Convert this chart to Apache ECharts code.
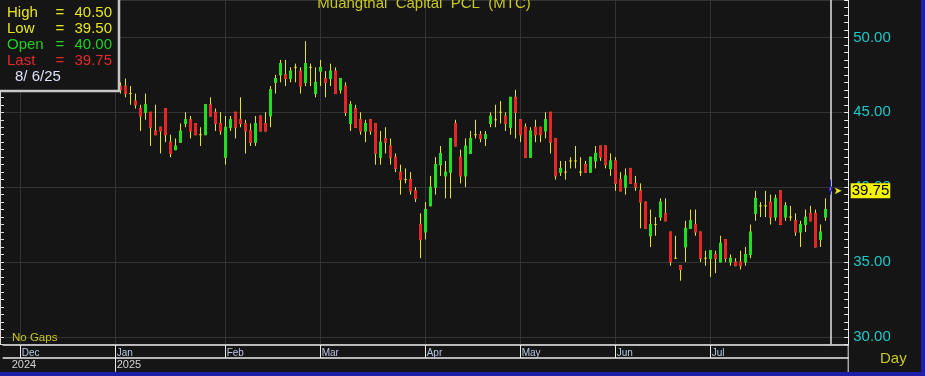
<!DOCTYPE html>
<html>
<head>
<meta charset="utf-8">
<title>Muangthai Capital PCL (MTC)</title>
<script src="https://cdn.jsdelivr.net/npm/echarts@6.0.0/dist/echarts.min.js"></script>
<style>
  html, body { margin: 0; padding: 0; background: #151515; }
  #chart { width: 925px; height: 376px; }
</style>
</head>
<body>
<div id="chart"></div>
<script>
// SET trading days shown on the chart, per month
var tradingDays = [
  ["2024-12", [2, 3, 4, 6, 9, 11, 12, 13, 16, 17, 18, 19, 20, 23, 24, 25, 26, 27, 30]],
  ["2025-01", [2, 3, 6, 7, 8, 9, 10, 13, 14, 15, 16, 17, 20, 21, 22, 23, 24, 27, 28, 29, 30, 31]],
  ["2025-02", [3, 4, 5, 6, 7, 10, 11, 13, 14, 17, 18, 19, 20, 21, 24, 25, 26, 27, 28]],
  ["2025-03", [3, 4, 5, 6, 7, 10, 11, 12, 13, 14, 17, 18, 19, 20, 21, 24, 25, 26, 27, 28, 31]],
  ["2025-04", [1, 2, 3, 4, 8, 9, 10, 11, 16, 17, 18, 21, 22, 23, 24, 25, 28, 29, 30]],
  ["2025-05", [2, 6, 7, 8, 9, 13, 14, 15, 16, 19, 20, 21, 22, 23, 26, 27, 28, 29, 30]],
  ["2025-06", [4, 5, 6, 9, 10, 11, 12, 13, 16, 17, 18, 19, 20, 23, 24, 25, 26, 27, 30]],
  ["2025-07", [1, 2, 3, 4, 7, 8, 9, 11, 14, 15, 16, 17, 18, 21, 22, 23, 24, 25, 29, 30, 31]],
  ["2025-08", [1, 4, 5, 6]]
];

// december candles sit behind the quote box, not readable
var DEC = [null, null, null, null, null, null, null, null, null, null,
  null, null, null, null, null, null, null, null, null];

var open = DEC.concat([
  // jan
  47.0, 46.75, 46.75, 46.25, 45.75, 45.25, 45.0, 45.0, 43.75, 44.0, 45.25, 43.0, 42.5, 43.0, 44.25, 44.5, 44.25, 43.5, 43.5, 45.5, 45.0, 44.25,
  // feb
  42.0, 44.0, 45.0, 44.5, 44.25, 43.75, 43.0, 44.75, 44.25, 44.75, 47.0, 47.5, 47.5, 47.25, 48.0, 47.75, 47.0, 48.0, 46.25,
  // mar
  47.75, 47.25, 47.25, 47.75, 46.5, 46.75, 44.25, 45.25, 44.5, 43.75, 44.5, 44.25, 42.0, 43.25, 42.75, 42.0, 41.0, 40.5, 40.5, 39.75, 37.5,
  // apr
  37.0, 38.75, 40.0, 41.5, 40.75, 41.0, 44.25, 42.0, 40.75, 42.25, 43.5, 43.5, 43.25, 44.25, 44.5, 45.0, 44.75, 44.0, 46.0,
  // may
  44.5, 44.0, 42.0, 44.0, 44.0, 43.75, 45.0, 43.25, 41.0, 41.0, 41.75, 41.75, 41.0, 41.5, 41.0, 41.75, 42.75, 42.75, 41.25,
  // jun
  41.75, 40.5, 40.0, 41.25, 40.25, 39.75, 39.0, 36.75, 37.5, 38.0, 38.25, 37.0, 35.25, 34.75, 36.0, 37.25, 37.5, 37.0, 35.25,
  // jul
  35.25, 35.5, 35.0, 36.5, 35.0, 35.0, 35.0, 35.0, 35.5, 38.25, 38.75, 38.75, 39.0, 38.0, 39.75, 38.0, 38.0, 37.75, 37.0, 37.5, 38.25,
  // aug
  38.25, 36.5, 38.0, 40.0
]);

var high = DEC.concat([
  47.25, 47.0, 47.25, 46.75, 46.25, 45.5, 46.25, 45.0, 45.5, 44.0, 45.25, 43.5, 43.25, 44.25, 45.0, 44.75, 44.25, 44.0, 45.5, 46.0, 45.25, 45.0,
  44.75, 44.75, 45.0, 46.0, 44.5, 44.25, 44.75, 44.75, 45.0, 46.75, 47.5, 48.5, 48.5, 48.0, 48.25, 48.0, 49.75, 48.25, 48.0,
  48.5, 47.75, 48.25, 48.0, 47.25, 47.0, 45.75, 45.5, 45.0, 44.5, 44.5, 44.25, 43.75, 44.0, 43.25, 42.25, 41.5, 41.25, 41.0, 40.0, 38.25,
  39.0, 40.75, 42.0, 42.75, 41.75, 43.25, 44.5, 42.5, 43.25, 43.75, 44.5, 43.75, 43.75, 45.0, 45.5, 45.75, 45.0, 46.0, 46.5,
  44.5, 44.25, 44.0, 44.5, 44.0, 45.0, 45.0, 43.25, 41.75, 41.75, 42.0, 42.75, 42.0, 41.75, 42.0, 42.75, 42.75, 42.75, 42.25,
  42.0, 41.0, 41.25, 41.25, 40.75, 40.25, 39.0, 38.5, 38.0, 39.25, 39.25, 37.0, 36.75, 34.75, 37.75, 38.5, 38.5, 37.0, 35.75,
  35.75, 35.75, 36.75, 36.5, 35.5, 35.25, 35.75, 36.0, 37.5, 39.75, 39.0, 39.75, 39.5, 39.5, 39.75, 39.0, 38.75, 38.25, 37.75, 38.5, 38.75,
  38.5, 37.5, 39.25, 40.5
]);

var low = DEC.concat([
  46.75, 46.25, 46.0, 45.5, 45.25, 43.75, 44.5, 42.75, 43.5, 42.25, 43.0, 42.0, 42.5, 43.0, 44.0, 43.25, 43.5, 42.75, 43.5, 44.75, 43.75, 43.5,
  41.5, 43.75, 43.25, 44.0, 42.25, 42.75, 42.75, 43.75, 43.75, 44.0, 46.25, 47.0, 46.75, 47.0, 47.0, 46.25, 46.75, 46.75, 46.0,
  46.75, 46.0, 46.75, 46.25, 46.25, 44.75, 43.75, 44.0, 43.5, 43.0, 43.5, 41.5, 41.5, 42.25, 41.5, 41.0, 39.5, 40.25, 39.5, 39.0, 35.25,
  36.5, 38.75, 39.5, 40.75, 39.25, 39.25, 42.75, 40.25, 40.0, 42.25, 43.25, 43.0, 42.75, 44.0, 44.0, 44.25, 43.75, 43.5, 43.25,
  43.0, 42.0, 42.0, 43.0, 43.0, 43.25, 42.25, 40.5, 40.75, 40.5, 41.25, 41.25, 40.75, 41.0, 41.0, 41.25, 41.75, 41.25, 40.75,
  39.75, 39.75, 39.5, 40.25, 39.75, 37.25, 37.25, 36.0, 36.75, 37.75, 37.75, 34.75, 35.25, 33.75, 35.0, 37.25, 36.75, 35.0, 34.75,
  34.0, 34.25, 35.0, 35.0, 34.75, 34.75, 34.5, 34.75, 35.25, 37.75, 38.0, 38.0, 37.5, 37.75, 37.5, 37.75, 37.75, 36.75, 36.0, 37.0, 37.75,
  36.0, 36.0, 37.75, 39.5
]);

var close = DEC.concat([
  47.0, 46.5, 46.25, 46.25, 45.5, 44.75, 45.5, 44.0, 43.5, 43.75, 43.5, 42.25, 42.75, 43.75, 44.5, 43.75, 43.5, 43.5, 45.5, 44.75, 44.25, 43.75,
  44.0, 44.5, 44.0, 44.25, 43.75, 43.0, 44.25, 43.75, 43.75, 46.5, 47.25, 48.25, 47.25, 47.75, 48.0, 46.75, 48.25, 48.0, 47.0,
  48.0, 47.0, 47.75, 46.25, 47.25, 45.0, 45.5, 44.0, 43.75, 44.25, 43.75, 42.25, 43.0, 43.0, 42.0, 41.25, 40.5, 40.5, 39.75, 39.25, 36.5,
  38.5, 40.0, 41.5, 42.25, 41.0, 43.25, 42.75, 40.75, 42.75, 43.25, 43.5, 43.25, 43.5, 44.75, 44.5, 45.0, 44.25, 46.0, 45.0,
  43.5, 42.0, 43.75, 43.5, 43.5, 44.5, 43.0, 40.75, 41.25, 41.0, 41.75, 41.75, 41.0, 41.0, 42.0, 42.25, 42.0, 41.5, 41.75,
  40.25, 39.75, 40.75, 40.25, 40.0, 39.0, 37.25, 37.5, 37.5, 39.0, 37.75, 35.0, 35.25, 34.5, 37.25, 37.75, 37.0, 35.25, 35.25,
  35.75, 35.25, 36.25, 35.25, 35.25, 34.75, 34.75, 35.5, 37.0, 39.25, 38.75, 38.75, 38.0, 39.25, 37.5, 38.75, 38.0, 37.0, 37.5, 38.0, 37.75,
  36.0, 37.0, 38.5, 39.75
]);

// bottom scale
var monthTicks = ["2024-12-02", "2025-01-02", "2025-02-03", "2025-03-03", "2025-04-01", "2025-05-02", "2025-06-04", "2025-07-01"];
var monthNames = ["Dec", "Jan", "Feb", "Mar", "Apr", "May", "Jun", "Jul"];
var yearTicks = ["2025-01-02"];
var yearNames = ["2024", "2025"];

var YELLOW = "#e6e620";
var UP = "#1ee01e";
var DOWN = "#e62626";
var CURSOR = "#2424cc";
var TXT = "#c8c81e";
var FONT = "Liberation Sans, Arial, sans-serif";

var dates = [];
tradingDays.forEach(function (m) {
  m[1].forEach(function (d) {
    dates.push(m[0] + "-" + (d < 10 ? "0" + d : d));
  });
});

// empty slots before / after so the candles line up with the frame
var lead = ["p0", "p1", "p2"];
var tail = ["n0", "n1", "n2"];
var categories = lead.concat(dates, tail);

var last = dates.length - 1;
var lastDate = dates[last];

var full = [];
var body = [];
lead.forEach(function () { full.push("-"); body.push("-"); });
dates.forEach(function (d, i) {
  if (open[i] == null) {
    full.push("-");
    body.push("-");
    return;
  }
  var o = open[i], c = close[i];
  var f = { value: [o, c, low[i], high[i]] };
  var b = o === c ? "-" : { value: [o, c, Math.min(o, c), Math.max(o, c)] };
  if (i === last) {
    f.itemStyle = { color: CURSOR, color0: CURSOR, borderColor: CURSOR, borderColor0: CURSOR, borderColorDoji: CURSOR };
    if (b !== "-") {
      b.itemStyle = { color: "#d86a6a", color0: "#d86a6a", borderColor: CURSOR, borderColor0: CURSOR };
    }
  }
  full.push(f);
  body.push(b);
});
tail.forEach(function () { full.push("-"); body.push("-"); });

function monthLabel(v) {
  var k = monthTicks.indexOf(v);
  return k < 0 ? "" : monthNames[k];
}

function fmtDate(d) {
  var p = d.split("-");
  var day = parseInt(p[2], 10);
  return parseInt(p[1], 10) + "/" + (day < 10 ? " " + day : day) + "/" + p[0].slice(2);
}

var monthLines = monthTicks.map(function (d) {
  return { xAxis: d };
});
monthLines.push({ xAxis: lastDate, lineStyle: { color: "#e4e4e4", width: 1.5, type: "solid" } });

var quoteRows = [
  ["High", high[last], YELLOW, 13],
  ["Low", low[last], YELLOW, 28.5],
  ["Open", open[last], "#22d022", 44.5],
  ["Last", close[last], "#e22a2a", 60.5]
];

var graphics = [
  { type: "rect", z: 100, shape: { x: -3, y: -3, width: 122, height: 94 },
    style: { fill: "#151515", stroke: "#c8c8c8", lineWidth: 2.5 } }
];
quoteRows.forEach(function (r) {
  graphics.push({ type: "text", z: 101, x: 7, y: r[3],
    style: { text: r[0], fill: r[2], font: "15px " + FONT, textVerticalAlign: "middle" } });
  graphics.push({ type: "text", z: 101, x: 60, y: r[3],
    style: { text: "=", fill: r[2], font: "15px " + FONT, textAlign: "center", textVerticalAlign: "middle" } });
  graphics.push({ type: "text", z: 101, x: 112, y: r[3],
    style: { text: r[1].toFixed(2), fill: r[2], font: "15px " + FONT, textAlign: "right", textVerticalAlign: "middle" } });
});
graphics.push({ type: "text", z: 101, x: 15, y: 77,
  style: { text: fmtDate(lastDate), fill: "#dae2fa", font: "15px " + FONT, textVerticalAlign: "middle" } });
graphics.push({ type: "text", z: 101, x: 12, y: 337.5,
  style: { text: "No Gaps", fill: TXT, font: "11.5px " + FONT, textVerticalAlign: "middle" } });
graphics.push({ type: "text", z: 101, x: 880, y: 359,
  style: { text: "Day", fill: TXT, font: "15px " + FONT, textVerticalAlign: "middle" } });
graphics.push({ type: "line", z: 101, shape: { x1: 848.2, y1: 344, x2: 848.2, y2: 372 },
  style: { stroke: "#e8e8e8", lineWidth: 1 } });
graphics.push({ type: "rect", z: 102, shape: { x: 0, y: 372, width: 925, height: 4 }, style: { fill: "#1e1eaa" } });
graphics.push({ type: "rect", z: 102, shape: { x: 921, y: 0, width: 4, height: 376 }, style: { fill: "#1e1eaa" } });

var myChart = echarts.init(document.getElementById("chart"), null, { renderer: "canvas" });

var option = {
  backgroundColor: "#151515",
  animation: false,
  title: {
    text: "Muangthai  Capital  PCL  (MTC)",
    left: 424,
    top: -4,
    padding: 0,
    textAlign: "center",
    textStyle: { color: TXT, fontSize: 15, fontWeight: "normal", fontFamily: FONT }
  },
  grid: { left: 3.2, right: 76.8, top: -0.7, height: 345 },
  xAxis: [
    {
      type: "category",
      data: categories,
      boundaryGap: true,
      axisLine: { lineStyle: { color: "#ececec", width: 1.5 } },
      axisTick: {
        show: true,
        alignWithLabel: true,
        length: 13.5,
        interval: function (i, v) { return monthTicks.indexOf(v) >= 0; },
        lineStyle: { color: "#ececec" }
      },
      axisLabel: {
        interval: function (i, v) { return monthTicks.indexOf(v) >= 0; },
        formatter: monthLabel,
        align: "left",
        margin: 4,
        padding: [0, 0, 0, 1],
        color: "#bcc6de",
        fontSize: 10,
        fontFamily: FONT
      },
      splitLine: { show: false }
    },
    {
      type: "category",
      data: categories,
      boundaryGap: true,
      position: "bottom",
      offset: 13.5,
      axisLine: { lineStyle: { color: "#ececec", width: 1.5 } },
      axisTick: {
        show: true,
        alignWithLabel: true,
        length: 14,
        interval: function (i, v) { return yearTicks.indexOf(v) >= 0; },
        lineStyle: { color: "#ececec" }
      },
      axisLabel: {
        interval: function (i, v) { return v === "p1" || yearTicks.indexOf(v) >= 0; },
        formatter: function (v) {
          if (v === "p1") return yearNames[0];
          var k = yearTicks.indexOf(v);
          return k < 0 ? "" : yearNames[k + 1];
        },
        align: "left",
        margin: 2,
        padding: [0, 0, 0, 1],
        color: "#d4d4d4",
        fontSize: 11,
        fontFamily: FONT
      },
      splitLine: { show: false }
    }
  ],
  yAxis: [
    {
      type: "value",
      position: "right",
      min: 29.5,
      max: 52.5,
      interval: 0.5,
      axisLine: { show: true, lineStyle: { color: "#e8e8e8", width: 1 } },
      axisTick: { show: true, inside: true, length: 4, lineStyle: { color: "#e8e8e8" } },
      axisLabel: { show: false },
      splitLine: { show: false }
    },
    {
      type: "value",
      position: "right",
      min: 29.5,
      max: 52.5,
      splitNumber: 5,
      axisLine: { show: false },
      axisTick: { show: false },
      axisLabel: {
        show: true,
        margin: 5,
        showMinLabel: false,
        showMaxLabel: false,
        color: "#1ec8c8",
        fontSize: 15,
        fontFamily: FONT,
        formatter: function (v) { return v.toFixed(2); }
      },
      splitLine: { show: true, lineStyle: { color: "#333333", width: 1 } }
    },
    {
      type: "value",
      position: "left",
      offset: 3.2,
      min: 29.5,
      max: 52.5,
      interval: 0.5,
      axisLine: { show: true, lineStyle: { color: "#d8d8d8", width: 1 } },
      axisTick: { show: true, inside: true, length: 4, lineStyle: { color: "#d8d8d8" } },
      axisLabel: { show: false },
      splitLine: { show: false }
    }
  ],
  series: [
    // wicks (yellow), full high-low range
    {
      name: "range",
      type: "candlestick",
      data: full,
      barWidth: 3,
      silent: true,
      emphasis: { disabled: true },
      itemStyle: {
        color: YELLOW, color0: YELLOW,
        borderColor: YELLOW, borderColor0: YELLOW, borderColorDoji: YELLOW,
        borderWidth: 1
      },
      markLine: {
        silent: true,
        z: 1,
        symbol: ["none", "none"],
        label: { show: false },
        lineStyle: { color: "#333333", width: 1, type: "solid" },
        data: monthLines
      }
    },
    // bodies, open-close only
    {
      name: "body",
      type: "candlestick",
      data: body,
      barWidth: 3,
      silent: true,
      emphasis: { disabled: true },
      itemStyle: {
        color: UP, color0: DOWN,
        borderColor: UP, borderColor0: DOWN,
        borderWidth: 1
      },
      markPoint: {
        silent: true,
        symbol: "arrow",
        symbolSize: [5, 7],
        symbolRotate: -90,
        symbolOffset: [11, 0],
        itemStyle: { color: YELLOW },
        label: { show: false },
        data: [{ coord: [lastDate, close[last]] }]
      }
    },
    // last price tag on the right scale
    {
      name: "lastTag",
      type: "line",
      data: [],
      silent: true,
      markLine: {
        silent: true,
        z: 10,
        symbol: ["none", "none"],
        lineStyle: { color: "rgba(0,0,0,0)", width: 0 },
        label: {
          show: true,
          position: "end",
          distance: 2.5,
          formatter: function (p) { return p.value.toFixed(2); },
          backgroundColor: "#f4f400",
          color: "#000",
          fontSize: 15,
          fontFamily: FONT,
          lineHeight: 15,
          padding: [0, 1, 0, 1]
        },
        data: [{ yAxis: close[last] }]
      }
    }
  ],
  graphic: graphics
};

myChart.setOption(option);
</script>
</body>
</html>
